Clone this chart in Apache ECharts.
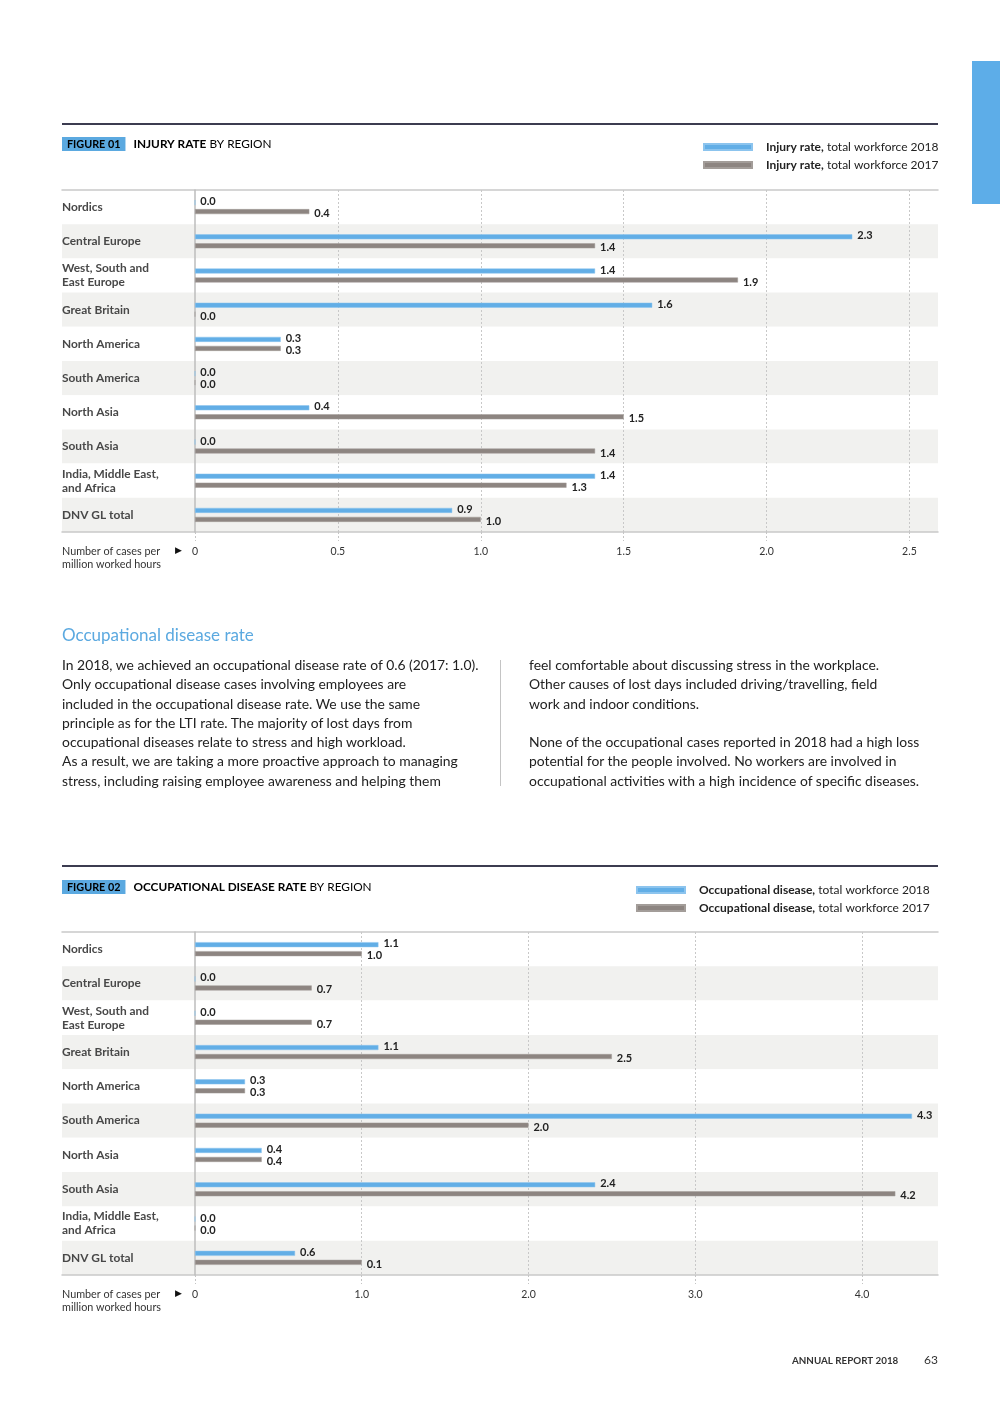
<!DOCTYPE html>
<html>
<head>
<meta charset="utf-8">
<script src="https://cdn.jsdelivr.net/npm/echarts@6/dist/echarts.min.js"></script>
<style>
  html, body { margin: 0; padding: 0; background: #fff; }
  #chart { position: absolute; left: 0; top: 0; width: 1000px; height: 1413px; }
  .txt { position: absolute; font-family: Lato, "Noto Sans", sans-serif; color: #222; white-space: pre; }
  .col { font-size: 13.9px; line-height: 19.3px; top: 655px; }
  #h2 { left: 62px; top: 624px; font-size: 17px; color: #5BA9E0; line-height: 22px; }
  #divider { position: absolute; left: 500px; top: 660px; width: 1px; height: 126px; background: #c4c4c4; }
</style>
</head>
<body>
<div id="chart"></div>
<div class="txt" id="h2">Occupational disease rate</div>
<div class="txt col" id="colL" style="left:62px;"></div>
<div id="divider"></div>
<div class="txt col" id="colR" style="left:529px;"></div>
<script>
// ---------- DATA ----------
const categories = ['Nordics', 'Central Europe', 'West, South and\nEast Europe', 'Great Britain',
  'North America', 'South America', 'North Asia', 'South Asia',
  'India, Middle East,\nand Africa', 'DNV GL total'];
const injury2018 = [0.0, 2.3, 1.4, 1.6, 0.3, 0.0, 0.4, 0.0, 1.4, 0.9];
const injury2017 = [0.4, 1.4, 1.9, 0.0, 0.3, 0.0, 1.5, 1.4, 1.3, 1.0];
const disease2018 = [1.1, 0.0, 0.0, 1.1, 0.3, 4.3, 0.4, 2.4, 0.0, 0.6];
const disease2017 = [1.0, 0.7, 0.7, 2.5, 0.3, 2.0, 0.4, 4.2, 0.0, 1.0];
// labels exactly as printed in the report (last one is printed as 0.1)
const disease2017Printed = ['1.0', '0.7', '0.7', '2.5', '0.3', '2.0', '0.4', '4.2', '0.0', '0.1'];
const injuryTicks = ['0', '0.5', '1.0', '1.5', '2.0', '2.5'];
const diseaseTicks = ['0', '1.0', '2.0', '3.0', '4.0'];
const injuryNames = ['Injury rate, total workforce 2018', 'Injury rate, total workforce 2017'];
const diseaseNames = ['Occupational disease, total workforce 2018', 'Occupational disease, total workforce 2017'];

const paraLeft = [
  'In 2018, we achieved an occupational disease rate of 0.6 (2017: 1.0).',
  'Only occupational disease cases involving employees are',
  'included in the occupational disease rate. We use the same',
  'principle as for the LTI rate. The majority of lost days from',
  'occupational diseases relate to stress and high workload.',
  'As a result, we are taking a more proactive approach to managing',
  'stress, including raising employee awareness and helping them'
];
const paraRight = [
  'feel comfortable about discussing stress in the workplace.',
  'Other causes of lost days included driving/travelling, field',
  'work and indoor conditions.',
  '',
  'None of the occupational cases reported in 2018 had a high loss',
  'potential for the people involved. No workers are involved in',
  'occupational activities with a high incidence of specific diseases.'
];
document.getElementById('colL').textContent = paraLeft.join('\n');
document.getElementById('colR').textContent = paraRight.join('\n');

// ---------- STYLE ----------
const FONT = 'Lato, "Noto Sans", sans-serif';
const BLUE = '#62AEE6';
const GREY = '#8D8581';
const BAND = '#F1F1EF';
const RULE = '#C9C9C9';
const DARK = '#3C3C50';
const L = 62, R = 938, PLOT_L = 195;
const C1 = { top: 190, bottom: 532 };
const C2 = { top: 932, bottom: 1275 };

function bgGrid(c) { return { left: L, width: R - L, top: c.top, height: c.bottom - c.top, containLabel: false }; }
function barGrid(c) { return { left: PLOT_L, width: R - PLOT_L, top: c.top, height: c.bottom - c.top, containLabel: false }; }

function lineAxis(grid, pos) {
  return { type: 'value', gridIndex: grid, position: pos, min: 0, max: 1, z: 0,
    axisLine: { show: true, onZero: false, lineStyle: { color: RULE, width: 1.5 } },
    axisTick: { show: false }, axisLabel: { show: false }, splitLine: { show: false } };
}
function valueAxis(grid, max, interval, ticks) {
  return { type: 'value', gridIndex: grid, min: 0, max: max, interval: interval, z: 2,
    axisLine: { show: false },
    axisTick: { show: true, length: 9, lineStyle: { color: '#C4C4C4', type: [2, 2] } },
    axisLabel: { show: true, margin: 14, fontFamily: FONT, fontSize: 10.5, color: '#333', showMaxLabel: false,
      formatter: function (v) { const i = Math.round(v / interval); return Math.abs(i * interval - v) < 1e-6 && ticks[i] !== undefined ? ticks[i] : ''; } },
    splitLine: { show: true, showMinLine: false, showMaxLine: false, lineStyle: { color: '#C8C8C8', type: [2, 2], width: 1 } } };
}
function bgCatAxis(grid) {
  return { type: 'category', gridIndex: grid, data: categories, inverse: true, z: -1,
    axisLine: { show: false }, axisTick: { show: false }, axisLabel: { show: false },
    splitLine: { show: false },
    splitArea: { show: true, areaStyle: { color: ['#FFFFFF', BAND] } } };
}
function catAxis(grid) {
  return { type: 'category', gridIndex: grid, data: categories, inverse: true, z: 2,
    axisLine: { show: true, lineStyle: { color: '#BDBDBD', width: 1.5 } },
    axisTick: { show: false },
    axisLabel: { show: true, align: 'left', margin: PLOT_L - L, fontFamily: FONT, fontSize: 11.9, fontWeight: 'bold',
      color: '#484848', lineHeight: 14 },
    splitLine: { show: false } };
}
function barSeries(name, data, xi, yi, color, printed, dy) {
  return { type: 'bar', name: name, xAxisIndex: xi, yAxisIndex: yi, barWidth: 5, barGap: '80%', z: 3,
    itemStyle: { color: color, borderColor: color === BLUE ? '#8CC4EE' : '#A39D99', borderWidth: 0.5 },
    label: { show: true, position: 'right', distance: 5, offset: [0, dy], fontFamily: FONT, fontSize: 11,
      fontWeight: 'bold', color: '#222',
      formatter: function (p) { return printed ? printed[p.dataIndex] : p.value.toFixed(1); } },
    data: data, animation: false };
}
function legend(left, top, names) {
  return { left: left, top: top, padding: 0, orient: 'vertical', data: names, icon: 'rect', itemWidth: 48, itemHeight: 6,
    itemGap: 4, selectedMode: false,
    textStyle: { fontFamily: FONT, fontSize: 12, color: '#222', lineHeight: 14, padding: [0, 0, 0, 9],
      rich: { b: { fontFamily: FONT, fontSize: 12, fontWeight: 'bold', color: '#222' },
              n: { fontFamily: FONT, fontSize: 12, color: '#222' } } },
    formatter: function (n) { const i = n.indexOf(','); return '{b|' + n.slice(0, i + 1) + '}{n| ' + n.slice(i + 2) + '}'; } };
}
function titleText(y, fig, bold, rest) {
  return { type: 'text', left: L, top: y, style: {
    text: '{f|' + fig + '}{g| }{t|' + bold + '}{s| ' + rest + '}', font: '11px ' + FONT,
    rich: { f: { backgroundColor: '#5BA9E0', color: '#fff', fontWeight: 'bold', fontFamily: FONT, fontSize: 10.8, padding: [2, 5, 1, 5] },
            g: { width: 8 },
            t: { color: '#333', fontWeight: 'bold', fontFamily: FONT, fontSize: 11.8 },
            s: { color: '#555', fontFamily: FONT, fontSize: 11.8 } } } };
}
function axisTitle(y) {
  return [
    { type: 'text', left: L, top: y, style: { text: 'Number of cases per\nmillion worked hours', font: '10.8px ' + FONT, fill: '#333', lineHeight: 13 } },
    { type: 'text', left: 175, top: y + 1, style: { text: '▶', font: '9px "DejaVu Sans"', fill: '#111' } }
  ];
}

const chart = echarts.init(document.getElementById('chart'), null, { renderer: 'canvas' });
chart.setOption({
  animation: false,
  backgroundColor: '#fff',
  grid: [bgGrid(C1), barGrid(C1), bgGrid(C2), barGrid(C2)],
  xAxis: [lineAxis(0, 'bottom'), lineAxis(0, 'top'), valueAxis(1, 2.6, 0.5, injuryTicks),
          lineAxis(2, 'bottom'), lineAxis(2, 'top'), valueAxis(3, 4.456, 1, diseaseTicks)],
  yAxis: [bgCatAxis(0), catAxis(1), bgCatAxis(2), catAxis(3)],
  legend: [legend(703, 140, injuryNames), legend(636, 883, diseaseNames)],
  series: [
    barSeries(injuryNames[0], injury2018, 2, 1, BLUE, null, -1),
    barSeries(injuryNames[1], injury2017, 2, 1, GREY, null, 2),
    barSeries(diseaseNames[0], disease2018, 5, 3, BLUE, null, -1),
    barSeries(diseaseNames[1], disease2017, 5, 3, GREY, disease2017Printed, 2)
  ],
  graphic: [
    { type: 'rect', shape: { x: 972, y: 61, width: 28, height: 143 }, style: { fill: '#5DADE8' } },
    { type: 'rect', shape: { x: L, y: 123, width: R - L, height: 2 }, style: { fill: DARK } },
    titleText(137, 'FIGURE 01', 'INJURY RATE', 'BY REGION'),
    ...axisTitle(545),
    { type: 'rect', shape: { x: L, y: 865, width: R - L, height: 2 }, style: { fill: DARK } },
    titleText(880, 'FIGURE 02', 'OCCUPATIONAL DISEASE RATE', 'BY REGION'),
    ...axisTitle(1288),
    { type: 'text', left: 792, top: 1356, style: { text: 'ANNUAL REPORT 2018', font: 'bold 9.8px ' + FONT, fill: '#333' } },
    { type: 'text', left: 924, top: 1354, style: { text: '63', font: '12px ' + FONT, fill: '#333' } }
  ]
});
</script>
</body>
</html>
